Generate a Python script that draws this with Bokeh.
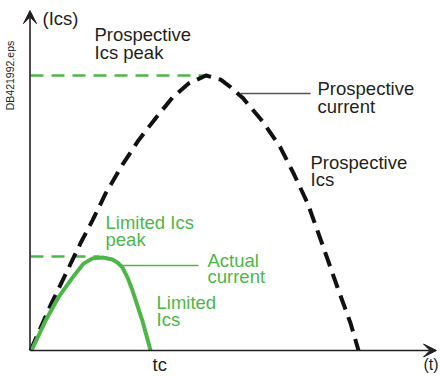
import math
from bokeh.plotting import figure
from bokeh.models import Range1d, Arrow, VeeHead
from bokeh.core.properties import value
from bokeh.embed import file_html
from bokeh.resources import INLINE

# ---- data (time in arbitrary units, current normalised to prospective peak) ----
prospective_t = [0.0, 0.61, 0.98, 1.52, 1.89, 2.29, 2.80, 3.29, 3.81, 4.33, 4.82, 5.35,
                 5.80, 6.10, 6.49, 7.10, 7.62, 8.02, 8.45, 8.93, 9.36, 9.76, 10.0]
prospective_i = [0.0, 0.164, 0.255, 0.389, 0.473, 0.571, 0.675, 0.764, 0.844, 0.920, 0.971, 1.0,
                 0.985, 0.958, 0.916, 0.829, 0.738, 0.644, 0.535, 0.375, 0.229, 0.098, 0.0]

limited_t = [0.03, 0.46, 0.85, 1.28, 1.62, 1.89, 2.20, 2.50, 2.65, 2.80, 2.96, 3.11, 3.41, 3.66]
limited_i = [0.0, 0.109, 0.193, 0.265, 0.316, 0.335, 0.338, 0.331, 0.320, 0.302, 0.265, 0.218, 0.109, 0.0]

prospective_peak = 1.0
limited_peak = 0.342

black_labels = ["(Ics)", "Prospective", "Ics peak", "Prospective", "current", "Prospective", "Ics", "tc"]
black_lx = [0.366, 1.951, 1.951, 8.750, 8.750, 8.537, 8.537, 3.72]
black_ly = [1.206, 1.148, 1.084, 0.951, 0.889, 0.682, 0.620, -0.051]

axis_t_label = "(t)"
axis_t_lx = 11.98
axis_t_ly = -0.050

green_labels = ["Limited Ics", "peak", "Actual", "current", "Limited", "Ics"]
green_lx = [2.287, 2.287, 5.396, 5.396, 3.841, 3.841]
green_ly = [0.464, 0.402, 0.329, 0.268, 0.173, 0.111]

GREEN = "#4cb748"
DARK = "#231f20"
FONT = value("Liberation Sans")

p = figure(width=441, height=376, output_backend="svg", toolbar_location=None,
           x_range=Range1d(-0.9146, 12.530), y_range=Range1d(-0.09455, 1.27273),
           x_axis_location=None, y_axis_location=None, min_border=0)
p.grid.visible = False
p.outline_line_color = None
p.background_fill_color = "white"

# reference level lines
p.line([0, 5.3], [prospective_peak, prospective_peak], line_color=GREEN, line_width=2.5, line_dash="13 8")
p.line([0, 2.1], [limited_peak, limited_peak], line_color=GREEN, line_width=2.5, line_dash="13 8")

# prospective current
p.line(prospective_t, prospective_i, line_color="#111111", line_width=4, line_dash="15 8",
       line_join="round")
# actual (limited) current
p.line(limited_t, limited_i, line_color=GREEN, line_width=4, line_join="round")

# leader lines
p.line([6.40, 8.54], [0.935, 0.935], line_color="#555555", line_width=1.5)
p.line([2.74, 5.12], [0.309, 0.309], line_color=GREEN, line_width=1.5)

# axes with arrows
p.add_layout(Arrow(end=VeeHead(size=13, fill_color=DARK, line_color=DARK),
                   x_start=-0.015, y_start=0, x_end=-0.015, y_end=1.236,
                   line_color=DARK, line_width=1.6))
p.add_layout(Arrow(end=VeeHead(size=13, fill_color=DARK, line_color=DARK),
                   x_start=-0.015, y_start=0, x_end=12.378, y_end=0,
                   line_color=DARK, line_width=1.6))

p.text(x=black_lx, y=black_ly, text=black_labels, text_font=FONT, text_font_size="18.5px",
       text_color=DARK, text_baseline="alphabetic", text_align="left")
p.text(x=[axis_t_lx], y=[axis_t_ly], text=[axis_t_label], text_font=FONT, text_font_size="16px",
       text_color=DARK, text_baseline="alphabetic", text_align="left")
p.text(x=green_lx, y=green_ly, text=green_labels, text_font=FONT, text_font_size="18.5px",
       text_color=GREEN, text_baseline="alphabetic", text_align="left")

p.text(x=[-0.625], y=[1.0], text=["DB421992.eps"], text_font=FONT, text_font_size="10.5px",
       text_color=DARK, text_baseline="middle", text_align="center", angle=math.pi / 2)

open("out.html", "w").write(file_html(p, INLINE))
